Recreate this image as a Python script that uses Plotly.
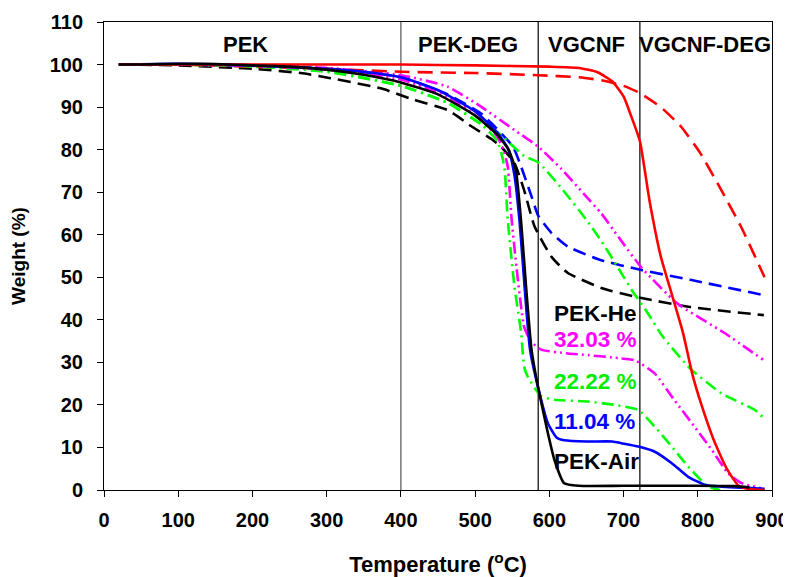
import plotly.graph_objects as go

# ---------------- data ----------------
red_air_x = [20, 100, 200, 300, 400, 500, 600, 640, 665, 685, 700, 710, 722, 735, 750, 765, 780, 793, 805, 821, 839, 855, 870, 890]
red_air_y = [100, 100, 100, 100, 100, 99.8, 99.5, 99.2, 98.2, 96, 92.5, 88, 82, 68, 55, 46, 37, 27, 20, 12, 5, 1, 0.2, 0]

red_he_x = [20, 100, 200, 300, 400, 500, 585, 640, 670, 700, 722, 750, 777, 804, 831, 858, 890]
red_he_y = [100, 100, 99.5, 99, 98.3, 98, 97.5, 97, 96.3, 95, 93.3, 90, 85.5, 79, 70.7, 62, 50]

blk_air_x = [20, 50, 100, 150, 200, 250, 300, 350, 400, 450, 500, 530, 545, 555, 562, 569, 576, 585, 598, 607, 620, 640, 700, 800, 850, 870]
blk_air_y = [100, 100, 100.2, 100.1, 99.8, 99.5, 98.8, 97.6, 95.8, 93, 88, 83.5, 80, 75, 63, 47, 33, 24, 13.4, 7, 1.6, 1, 1, 1, 0.9, 0.6]

blu_air_x = [20, 100, 200, 300, 350, 400, 450, 500, 530, 545, 553, 560, 567, 574, 585, 598, 610, 620, 650, 685, 697, 720, 742, 765, 787, 810, 832, 890]
blu_air_y = [100, 100.2, 99.8, 99, 98.3, 97, 94, 89, 84, 80, 74, 63, 47, 33, 24, 15.7, 12.3, 11.7, 11.4, 11.4, 11, 10.2, 9, 6.3, 3.1, 1.2, 0.8, 0.3]

mag_air_x = [20, 100, 200, 300, 400, 463, 508, 530, 538, 544, 549, 556, 566, 575, 589, 625, 652, 693, 715, 742, 769, 796, 819, 841, 859, 886]
mag_air_y = [100, 100, 99.7, 98.8, 96.5, 92.5, 87, 83, 80, 76, 64, 52, 38.4, 35, 33, 32.1, 31.7, 31, 30.5, 27.4, 21, 14.8, 9.4, 3.9, 1.6, 0.4]

grn_air_x = [20, 100, 200, 300, 400, 463, 508, 530, 537, 540, 544, 553, 562, 566, 571, 589, 607, 652, 688, 720, 742, 765, 787, 814, 830]
grn_air_y = [100, 100, 99.6, 98.5, 95, 91, 86, 82, 78, 75, 63.5, 47.8, 37, 29, 26.6, 22, 21.2, 20.8, 20, 18.8, 14.9, 10.2, 5.5, 0.8, 0]

grn_he_x = [20, 100, 200, 300, 400, 463, 508, 531, 553, 566, 585, 616, 650, 670, 690, 711, 733, 753, 790, 832, 877, 891]
grn_he_y = [100, 100, 99.5, 98.3, 95, 91, 86, 84, 80.5, 78.5, 77, 71, 63.5, 58.5, 53, 47, 41.5, 36, 28.5, 22.7, 18.8, 16.5]

mag_he_x = [20, 100, 200, 300, 400, 463, 508, 553, 585, 616, 647, 670, 693, 724, 772, 836, 889]
mag_he_y = [100, 100, 99.8, 99.2, 97.5, 94.8, 90.1, 84.6, 80.7, 75.5, 69.5, 65, 59.5, 52.3, 43.9, 36.9, 30.5]

blu_he_x = [20, 100, 200, 300, 400, 463, 508, 522, 551, 562, 576, 585, 603, 625, 670, 724, 790, 889]
blu_he_y = [100, 100, 99.8, 99, 97, 93, 88.5, 86.2, 80.7, 76, 69, 64.5, 60.4, 57.2, 54, 51.7, 49.4, 45.8]

blk_he_x = [20, 100, 200, 265, 305, 373, 418, 463, 495, 522, 535, 553, 566, 580, 603, 625, 670, 716, 790, 889]
blk_he_y = [100, 99.8, 99, 98, 96.8, 94.4, 91.7, 89.3, 85.5, 82.5, 80.7, 76.8, 70.5, 62, 54.8, 51, 47.5, 45.4, 43, 41.1]

boundaries = [400, 585, 722]
region_names = ["PEK", "PEK-DEG", "VGCNF", "VGCNF-DEG"]
region_x = [190, 490, 650, 810]
region_y = 104.8

label_texts = ["PEK-He", "32.03 %", "22.22 %", "11.04 %", "PEK-Air"]
label_colors = ["#000000", "#FF00FF", "#00EE00", "#0000FF", "#000000"]
label_y = [41.6, 35.3, 25.6, 16.2, 6.6]
label_x = 603

x_ticks = list(range(0, 1000, 100))
y_ticks = list(range(0, 120, 10))

# ---------------- figure ----------------
FONT = "Liberation Sans, Arial, sans-serif"
fig = go.Figure()

series = [
    (blk_he_x, blk_he_y, "#000000", "13px,7px"),
    (blu_he_x, blu_he_y, "#0000FF", "13px,7px"),
    (mag_he_x, mag_he_y, "#FF00FF", "12px,4px,2px,4px,2px,4px"),
    (grn_he_x, grn_he_y, "#00FF00", "12px,5px,2px,5px"),
    (red_he_x, red_he_y, "#FF0000", "15px,8px"),
    (grn_air_x, grn_air_y, "#00FF00", "12px,5px,2px,5px"),
    (mag_air_x, mag_air_y, "#FF00FF", "12px,4px,2px,4px,2px,4px"),
    (blu_air_x, blu_air_y, "#0000FF", "solid"),
    (red_air_x, red_air_y, "#FF0000", "solid"),
    (blk_air_x, blk_air_y, "#000000", "solid"),
]
for xs, ys, c, d in series:
    fig.add_trace(go.Scatter(x=xs, y=ys, mode="lines",
                             line=dict(color=c, width=2.6, dash=d, shape="spline", smoothing=0.5),
                             showlegend=False, hoverinfo="skip"))

for i, b in enumerate(boundaries):
    fig.add_shape(type="line", x0=b, x1=b, y0=0, y1=110, xref="x", yref="y",
                  line=dict(color="#555555" if i == 0 else "#000000", width=1.2), layer="below")

for name, xv in zip(region_names, region_x):
    fig.add_annotation(x=xv, y=region_y, text="<b>%s</b>" % name, showarrow=False,
                       font=dict(family=FONT, size=22, color="black"), xanchor="center", yanchor="middle")

for t, c, yv in zip(label_texts, label_colors, label_y):
    fig.add_annotation(x=label_x, y=yv, text="<b>%s</b>" % t, showarrow=False,
                       font=dict(family=FONT, size=22.5, color=c), xanchor="left", yanchor="middle")

axis_common = dict(showgrid=False, zeroline=False, showline=True, linecolor="black", linewidth=1,
                   mirror=True, ticks="outside", ticklen=6, tickcolor="black", automargin=False,
                   tickfont=dict(family=FONT, size=20, color="black"))

fig.update_xaxes(range=[0, 900], tickvals=x_ticks, ticktext=["<b>%d</b>" % v for v in x_ticks],
                 title=dict(text="<b>Temperature (<sup>o</sup>C)</b>", font=dict(family=FONT, size=22, color="black"),
                            standoff=26),
                 ticklabelstandoff=6, **axis_common)
fig.update_yaxes(range=[0, 110], tickvals=y_ticks, ticktext=["<b>%d</b>" % v for v in y_ticks],
                 title=dict(text="<b>Weight (%)</b>", font=dict(family=FONT, size=19, color="black"),
                            standoff=20),
                 ticklabelstandoff=10, **axis_common)

fig.update_layout(width=791, height=577, margin=dict(l=96, r=27, t=14, b=95),
                  plot_bgcolor="white", paper_bgcolor="white")

fig.write_html("out.html")
